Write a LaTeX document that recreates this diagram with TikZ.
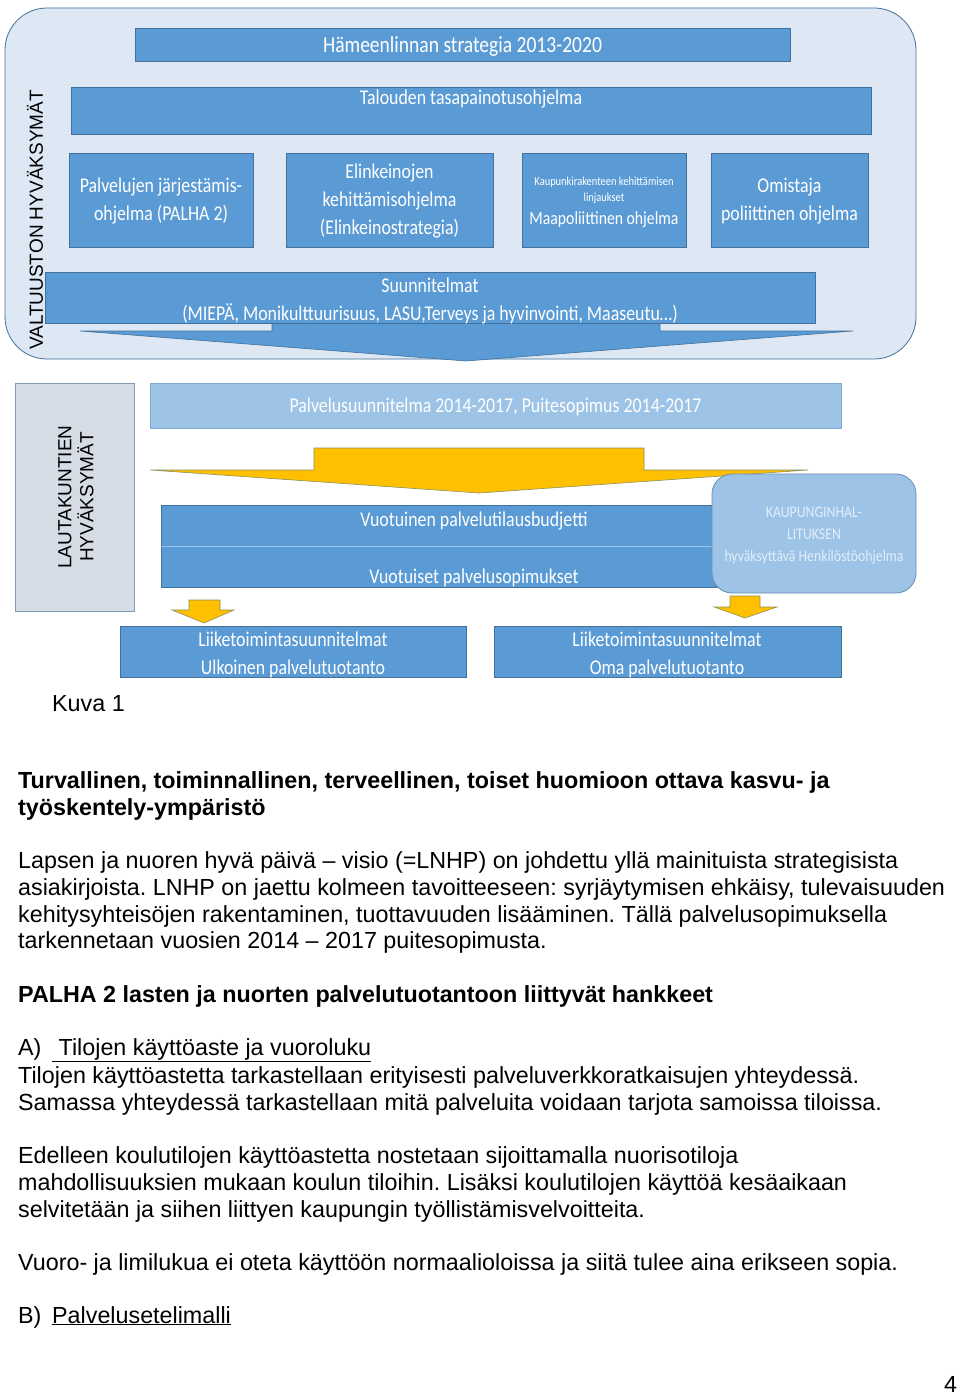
\documentclass[tikz,border=0pt]{standalone}
\usepackage{fontspec}
\setmainfont{Liberation Sans}
\newfontfamily\calf[FakeStretch=0.85]{Carlito}
\newfontfamily\bodyf{Liberation Sans}
\usetikzlibrary{fit}
\definecolor{mblue}{HTML}{5B9BD5}
\definecolor{bblue}{HTML}{41719C}
\definecolor{lblue}{HTML}{9DC3E6}
\definecolor{outerfill}{HTML}{DEE8F4}
\definecolor{greyfill}{HTML}{D6DCE5}
\definecolor{greyedge}{HTML}{7F9DB9}
\definecolor{ayellow}{HTML}{FFC000}
\definecolor{paletext}{HTML}{E2EEF9}
\frenchspacing
\begin{document}
\begin{tikzpicture}[x=1pt,y=-1pt]
\tikzset{
  box/.style={fill=mblue,draw=bblue,line width=0.8pt,inner sep=0pt},
  lbox/.style={fill=lblue,draw=lblue!70!bblue,line width=0.8pt,inner sep=0pt},
  wtext/.style={text=white,font=\calf\fontsize{21}{28}\selectfont,align=center,inner sep=0pt,yshift=-1.5pt},
  btext/.style={font=\bodyf\fontsize{23.3}{26.5}\selectfont,anchor=base west,inner sep=0pt},
  bold/.style={btext,font=\bodyf\bfseries\fontsize{23.3}{26.5}\selectfont},
  barrow/.style={fill=mblue,draw=bblue,line width=0.6pt},
  yarrow/.style={fill=ayellow,draw=bblue!60!ayellow,line width=0.6pt}
}
\useasboundingbox (0,0) rectangle (960,1396);
\fill[white] (0,0) rectangle (960,1396);

% ---- top section
\node[fill=outerfill,draw=bblue,line width=0.8pt,rounded corners=42pt,inner sep=0pt,fit={(5,8) (916,359)}] (outer) {};
\node[rotate=90,font=\fontsize{19}{22}\selectfont,inner sep=0pt] (valt) at (35,220) {VALTUUSTON HYV\"AKSYM\"AT};

\node[box,fit={(135,28) (790,61)}] (strat) {};
\node[wtext,font=\calf\fontsize{23}{28}\selectfont] at (strat.center) {Hämeenlinnan strategia 2013-2020};

\node[box,fit={(71,87) (871,134)}] (talous) {};
\node[wtext] at (471,98) {Talouden tasapainotusohjelma};

\node[box,fit={(69,153) (253,247)}] (palha) {};
\node[wtext] at (palha.center) {Palvelujen järjestämis-\\ohjelma (PALHA 2)};
\node[box,fit={(286,153) (493,247)}] (elink) {};
\node[wtext] at (elink.center) {Elinkeinojen\\kehittämisohjelma\\(Elinkeinostrategia)};
\node[box,fit={(522,153) (686,247)}] (maapol) {};
\node[wtext,font=\calf\fontsize{12.3}{16}\selectfont] at (604,189) {Kaupunkirakenteen kehittämisen\\linjaukset};
\node[wtext,font=\calf\fontsize{18.5}{28}\selectfont] at (604,218) {Maapoliittinen ohjelma};
\node[box,fit={(711,153) (868,247)}] (omist) {};
\node[wtext] at (omist.center) {Omistaja\\poliittinen ohjelma};

\fill[barrow] (272,320) -- (272,331) -- (80,331) -- (466,361) -- (853,331) -- (660,331) -- (660,320) -- cycle;
\node[box,fit={(45,272) (815,323)}] (suunn) {};
\node[wtext] at (430,284) {Suunnitelmat};
\node[wtext] at (430,312) {(MIEPÄ, Monikulttuurisuus, LASU,Terveys ja hyvinvointi, Maaseutu…)};

% ---- middle section
\node[fill=greyfill,draw=greyedge,line width=0.8pt,inner sep=0pt,fit={(15,383) (134,611)}] (lauta) {};
\node[rotate=90,font=\fontsize{19}{22}\selectfont,align=center,inner sep=0pt] (lautat) at (76,497) {LAUTAKUNTIEN\\HYV\"AKSYM\"AT};

\node[lbox,fit={(150,383) (841,428)}] (pals) {};
\node[wtext] at (pals.center) {Palvelusuunnitelma 2014-2017, Puitesopimus 2014-2017};

\filldraw[yarrow] (314,448) -- (314,470) -- (150,470) -- (479,493) -- (808,470) -- (644,470) -- (644,448) -- cycle;

\node[box,fit={(161,505) (720,587)}] (vuot) {};
\draw[lblue,line width=0.8pt] (vuot.west |- 0,546) -- (vuot.east |- 0,546);
\node[wtext] at (474,520) {Vuotuinen palvelutilausbudjetti};
\node[wtext] at (474,576) {Vuotuiset palvelusopimukset};

\node[lbox,draw=bblue!80,rounded corners=20pt,fit={(712,474) (916,593)}] (kaup) {};
\node[wtext,text=paletext,font=\calf\fontsize{16.2}{22}\selectfont] at (814,534) {KAUPUNGINHAL-\\LITUKSEN\\hyväksyttävä Henkilöstöohjelma};

\filldraw[yarrow] (189,600) -- (189,610) -- (172,610) -- (204,623) -- (234,610) -- (220,610) -- (220,600) -- cycle;
\filldraw[yarrow] (730,596) -- (730,607) -- (714,607) -- (745,618) -- (777,607) -- (760,607) -- (760,596) -- cycle;

\node[box,fit={(120,626) (466,677)}] (liikeu) {};
\node[wtext] at (293,638) {Liiketoimintasuunnitelmat};
\node[wtext] at (293,667) {Ulkoinen palvelutuotanto};
\node[box,fit={(494,626) (841,677)}] (liikeo) {};
\node[wtext] at (667,638) {Liiketoimintasuunnitelmat};
\node[wtext] at (667,667) {Oma palvelutuotanto};

\node[btext] (kuva) at (52,711) {Kuva 1};

% ---- body text
\node[bold] (h1) at (18,788) {Turvallinen, toiminnallinen, terveellinen, toiset huomioon ottava kasvu- ja};
\node[bold] (h1b) at (18,815) {työskentely-ympäristö};
\node[btext] (p1) at (18,868) {Lapsen ja nuoren hyvä päivä – visio (=LNHP) on johdettu yllä mainituista strategisista};
\node[btext] (p2) at (18,895) {asiakirjoista. LNHP on jaettu kolmeen tavoitteeseen: syrjäytymisen ehkäisy, tulevaisuuden};
\node[btext] (p3) at (18,922) {kehitysyhteisöjen rakentaminen, tuottavuuden lisääminen. Tällä palvelusopimuksella};
\node[btext] (p4) at (18,948) {tarkennetaan vuosien 2014 – 2017 puitesopimusta.};
\node[bold] (h2) at (18,1002) {PALHA 2 lasten ja nuorten palvelutuotantoon liittyvät hankkeet};
\node[btext] (a) at (18,1055) {A)};
\node[btext] (at) at (52,1055) {\underline{\ Tilojen käyttöaste ja vuoroluku}};
\node[btext] (a1) at (18,1083) {Tilojen käyttöastetta tarkastellaan erityisesti palveluverkkoratkaisujen yhteydessä.};
\node[btext] (a2) at (18,1110) {Samassa yhteydessä tarkastellaan mitä palveluita voidaan tarjota samoissa tiloissa.};
\node[btext] (e1) at (18,1163) {Edelleen koulutilojen käyttöastetta nostetaan sijoittamalla nuorisotiloja};
\node[btext] (e2) at (18,1190) {mahdollisuuksien mukaan koulun tiloihin. Lisäksi koulutilojen käyttöä kesäaikaan};
\node[btext] (e3) at (18,1217) {selvitetään ja siihen liittyen kaupungin työllistämisvelvoitteita.};
\node[btext] (v1) at (18,1270) {Vuoro- ja limilukua ei oteta käyttöön normaalioloissa ja siitä tulee aina erikseen sopia.};
\node[btext] (b) at (18,1323) {B)};
\node[btext] (bt) at (52,1323) {\underline{Palvelusetelimalli}};
\node[btext] (pg) at (944,1392) {4};
\end{tikzpicture}
\end{document}
